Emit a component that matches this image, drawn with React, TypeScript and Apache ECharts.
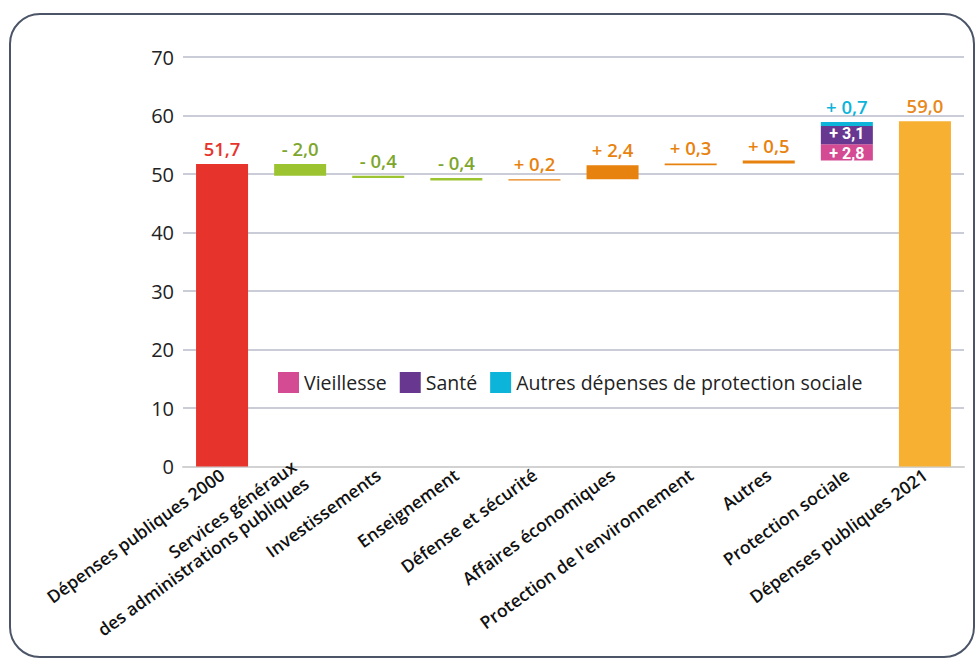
import React, { useEffect, useRef } from "react";
import * as echarts from "echarts";

const categories = [
  "Dépenses publiques 2000",
  "Services généraux\ndes administrations publiques",
  "Investissements",
  "Enseignement",
  "Défense et sécurité",
  "Affaires économiques",
  "Protection de l'environnement",
  "Autres",
  "Protection sociale",
  "Dépenses publiques 2021",
];
const startTotal = 51.7;
const endTotal = 59.0;
// changes for categories 1..7
const changes = [-2.0, -0.4, -0.4, 0.2, 2.4, 0.3, 0.5];
const socialNames = ["Vieillesse", "Santé", "Autres dépenses de protection sociale"];
const socialValues = [2.8, 3.1, 0.7];

const RED = "#E6342C";
const GREEN = "#9CC330";
const GREEN_TXT = "#7EA62C";
const ORANGE = "#E8820F";
const YELLOW = "#F7B032";
const PINK = "#D44A93";
const PURPLE = "#683890";
const CYAN = "#0CB4DA";
const FONT = "'Open Sans', 'Noto Sans', sans-serif";

const fmt = (v: number) => Math.abs(v).toFixed(1).replace(".", ",");
const r1 = (v: number) => Math.round(v * 10) / 10;

function buildOption() {
  const n = categories.length;
  const base: any[] = new Array(n).fill("-");
  const main: any[] = new Array(n).fill("-");
  const socialData: any[][] = socialNames.map(() => new Array(n).fill("-"));

  base[0] = 0;
  main[0] = {
    value: startTotal,
    itemStyle: { color: RED },
    label: { color: RED, formatter: fmt(startTotal) },
  };
  let running = startTotal;
  changes.forEach((ch, k) => {
    const i = k + 1;
    const neg = ch < 0;
    base[i] = r1(neg ? running + ch : running);
    const col = neg ? GREEN : ORANGE;
    main[i] = {
      value: Math.abs(ch),
      itemStyle: { color: col },
      label: { color: neg ? GREEN_TXT : ORANGE, formatter: (neg ? "- " : "+ ") + fmt(ch) },
    };
    running = r1(running + ch);
  });
  const si = 8;
  base[si] = running;
  socialValues.forEach((v, j) => {
    socialData[j][si] = v;
  });
  base[9] = 0;
  main[9] = {
    value: endTotal,
    itemStyle: { color: YELLOW },
    label: { color: "#E8891A", formatter: fmt(endTotal) },
  };

  const socialColors = [PINK, PURPLE, CYAN];
  const labelBase = {
    show: true,
    position: "top",
    distance: 6,
    fontSize: 18.5,
    fontWeight: 600,
    fontFamily: FONT,
  };

  const socialSeries = socialNames.map((name, j) => ({
    name,
    type: "bar",
    stack: "wf",
    barWidth: "66.6%",
    itemStyle: { color: socialColors[j] },
    data: socialData[j],
    label:
      j < 2
        ? {
            show: true,
            position: "inside",
            offset: [0, j === 0 ? 1.5 : -1.5],
            color: "#fff",
            fontSize: 16,
            lineHeight: 15,
            fontWeight: "bold",
            fontFamily: "Roboto, sans-serif",
            formatter: (p: any) => "+ " + fmt(p.value),
          }
        : {
            ...labelBase,
            color: CYAN,
            formatter: (p: any) => "+ " + fmt(p.value),
          },
  }));

  return {
    animation: false,
    grid: { left: 183, right: 12, top: 57, bottom: 193.5, containLabel: false },
    legend: {
      data: socialNames,
      left: 273,
      top: 367,
      icon: "rect",
      itemWidth: 21,
      itemHeight: 21,
      itemGap: 13,
      selectedMode: false,
      textStyle: { fontSize: 19.5, color: "#222", fontFamily: FONT },
    },
    xAxis: {
      type: "category",
      data: categories,
      axisTick: { show: false },
      axisLine: { show: true, lineStyle: { color: "#D2D2D2", width: 2 } },
      axisLabel: {
        interval: 0,
        rotate: 36,
        margin: 6,
        fontSize: 17.5,
        fontWeight: 600,
        lineHeight: 21,
        color: "#111",
        fontFamily: FONT,
      },
    },
    yAxis: {
      type: "value",
      min: 0,
      max: 70,
      interval: 10,
      axisLine: { show: false },
      axisTick: { show: false },
      axisLabel: { fontSize: 20, color: "#222", margin: 9, fontFamily: FONT },
      splitLine: { lineStyle: { color: "#B8BDCA", width: 1.5 } },
    },
    graphic: [
      {
        type: "rect",
        shape: { x: 10, y: 14, width: 964, height: 643, r: 30 },
        style: { fill: "none", stroke: "#4B5567", lineWidth: 2 },
        silent: true,
        z: -1,
      },
    ],
    series: [
      {
        name: "base",
        type: "bar",
        stack: "wf",
        barWidth: "66.6%",
        silent: true,
        itemStyle: { color: "transparent" },
        data: base,
      },
      {
        name: "main",
        type: "bar",
        stack: "wf",
        barWidth: "66.6%",
        label: labelBase,
        data: main,
      },
      ...socialSeries,
    ],
  };
}

export default function App() {
  const ref = useRef<HTMLDivElement>(null);
  useEffect(() => {
    if (!ref.current) return;
    const chart = echarts.init(ref.current, undefined, { renderer: "svg" });
    chart.setOption(buildOption() as any);
    return () => chart.dispose();
  }, []);
  return (
    <div
      ref={ref}
      style={{ position: "fixed", left: 0, top: 0, width: 976, height: 660, background: "#fff" }}
    />
  );
}
